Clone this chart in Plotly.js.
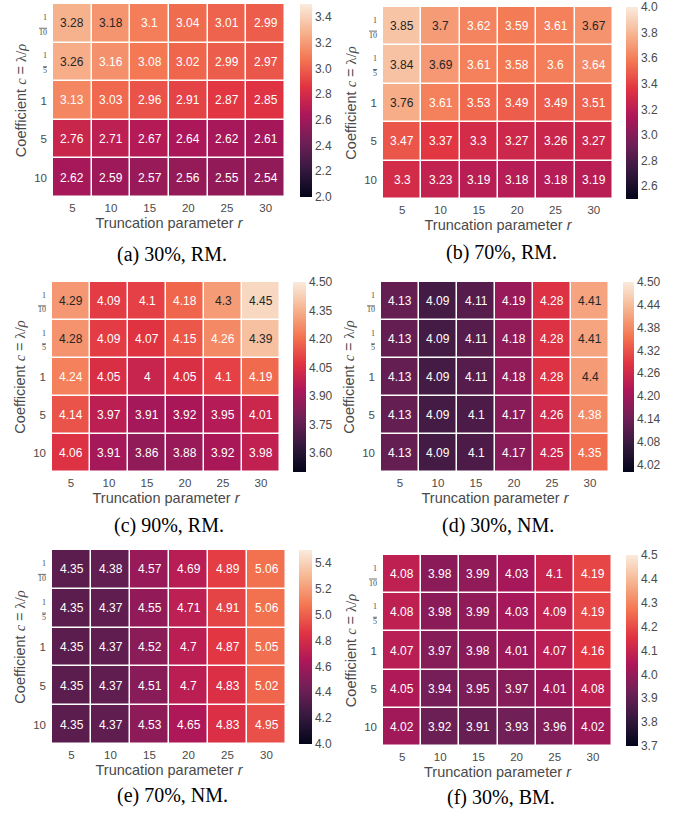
<!DOCTYPE html>
<html>
<head>
<meta charset="utf-8">
<script src="https://cdn.plot.ly/plotly-3.0.1.min.js"></script>
<style>html,body{margin:0;padding:0;background:#fff;}#chart{width:683px;height:815px;}</style>
</head>
<body>
<div id="chart"></div>
<script>
// ---- data ----
const xLabels = ['5', '10', '15', '20', '25', '30'];
const yLabels = ['1/10', '1/5', '1', '5', '10'];
const captions = ['(a) 30%, RM.', '(b) 70%, RM.', '(c) 90%, RM.', '(d) 30%, NM.', '(e) 70%, NM.', '(f) 30%, BM.'];

const zA = [[3.28, 3.18, 3.1, 3.04, 3.01, 2.99],
            [3.26, 3.16, 3.08, 3.02, 2.99, 2.97],
            [3.13, 3.03, 2.96, 2.91, 2.87, 2.85],
            [2.76, 2.71, 2.67, 2.64, 2.62, 2.61],
            [2.62, 2.59, 2.57, 2.56, 2.55, 2.54]];
const zB = [[3.85, 3.7, 3.62, 3.59, 3.61, 3.67],
            [3.84, 3.69, 3.61, 3.58, 3.6, 3.64],
            [3.76, 3.61, 3.53, 3.49, 3.49, 3.51],
            [3.47, 3.37, 3.3, 3.27, 3.26, 3.27],
            [3.3, 3.23, 3.19, 3.18, 3.18, 3.19]];
const zC = [[4.29, 4.09, 4.1, 4.18, 4.3, 4.45],
            [4.28, 4.09, 4.07, 4.15, 4.26, 4.39],
            [4.24, 4.05, 4, 4.05, 4.1, 4.19],
            [4.14, 3.97, 3.91, 3.92, 3.95, 4.01],
            [4.06, 3.91, 3.86, 3.88, 3.92, 3.98]];
const zD = [[4.13, 4.09, 4.11, 4.19, 4.28, 4.41],
            [4.13, 4.09, 4.11, 4.18, 4.28, 4.41],
            [4.13, 4.09, 4.11, 4.18, 4.28, 4.4],
            [4.13, 4.09, 4.1, 4.17, 4.26, 4.38],
            [4.13, 4.09, 4.1, 4.17, 4.25, 4.35]];
const zE = [[4.35, 4.38, 4.57, 4.69, 4.89, 5.06],
            [4.35, 4.37, 4.55, 4.71, 4.91, 5.06],
            [4.35, 4.37, 4.52, 4.7, 4.87, 5.05],
            [4.35, 4.37, 4.51, 4.7, 4.83, 5.02],
            [4.35, 4.37, 4.53, 4.65, 4.83, 4.95]];
const zF = [[4.08, 3.98, 3.99, 4.03, 4.1, 4.19],
            [4.08, 3.98, 3.99, 4.03, 4.09, 4.19],
            [4.07, 3.97, 3.98, 4.01, 4.07, 4.16],
            [4.05, 3.94, 3.95, 3.97, 4.01, 4.08],
            [4.02, 3.92, 3.91, 3.93, 3.96, 4.02]];

const cbRangeA = [2.0, 3.5], cbTicksA = ['2.0', '2.2', '2.4', '2.6', '2.8', '3.0', '3.2', '3.4'];
const cbRangeB = [2.5, 4.0], cbTicksB = ['2.6', '2.8', '3.0', '3.2', '3.4', '3.6', '3.8', '4.0'];
const cbRangeC = [3.5, 4.5], cbTicksC = ['3.60', '3.75', '3.90', '4.05', '4.20', '4.35', '4.50'];
const cbRangeD = [4.0, 4.5], cbTicksD = ['4.02', '4.08', '4.14', '4.20', '4.26', '4.32', '4.38', '4.44', '4.50'];
const cbRangeE = [4.0, 5.5], cbTicksE = ['4.0', '4.2', '4.4', '4.6', '4.8', '5.0', '5.2', '5.4'];
const cbRangeF = [3.7, 4.5], cbTicksF = ['3.7', '3.8', '3.9', '4.0', '4.1', '4.2', '4.3', '4.4', '4.5'];

// ---- style / layout ----
const W = 683, H = 815;
const rocketStops = [
  [0.0, '#03051a'], [1/7, '#35193e'], [2/7, '#701f57'], [3/7, '#ad1759'],
  [4/7, '#e13342'], [5/7, '#f37651'], [6/7, '#f6b48f'], [1.0, '#faebdd']
];
function hexToRgb(h) { return [parseInt(h.substr(1,2),16), parseInt(h.substr(3,2),16), parseInt(h.substr(5,2),16)]; }
function colorAt(t) {
  t = Math.max(0, Math.min(1, t));
  for (let k = 0; k < rocketStops.length - 1; k++) {
    const [t0, c0] = rocketStops[k], [t1, c1] = rocketStops[k+1];
    if (t <= t1) {
      const f = (t - t0) / (t1 - t0), a = hexToRgb(c0), b = hexToRgb(c1);
      return a.map((v, i) => v + f * (b[i] - v));
    }
  }
  return hexToRgb(rocketStops[rocketStops.length-1][1]);
}
function lum(rgb) {
  const l = rgb.map(v => { v /= 255; return v <= 0.03928 ? v / 12.92 : Math.pow((v + 0.055) / 1.055, 2.4); });
  return 0.2126 * l[0] + 0.7152 * l[1] + 0.0722 * l[2];
}

const panels = [
  {z: zA, range: cbRangeA, ticks: cbTicksA, cell: [53, 285, 4, 197],  cb: [300, 312], cap: 255},
  {z: zB, range: cbRangeB, ticks: cbTicksB, cell: [383, 613, 7, 199], cb: [626, 638], cap: 252},
  {z: zC, range: cbRangeC, ticks: cbTicksC, cell: [52, 280, 282, 472], cb: [293, 306], cap: 525},
  {z: zD, range: cbRangeD, ticks: cbTicksD, cell: [381, 609, 282, 472], cb: [623, 634], cap: 525},
  {z: zE, range: cbRangeE, ticks: cbTicksE, cell: [52, 286, 550, 744], cb: [299, 312], cap: 795},
  {z: zF, range: cbRangeF, ticks: cbTicksF, cell: [383, 612, 555, 746], cb: [626, 638], cap: 797}
];

const sans = 'Liberation Sans, Arial, sans-serif';
const tickGray = '#4a4a4a';
const fracTick = s => {
  if (s.indexOf('/') < 0) return s;
  const [n, d] = s.split('/');
  return "<span style='font-family:Liberation Serif;font-size:8px'>" + n +
         "<br><span style='text-decoration:overline'>" + d + "</span></span>";
};
const yTickText = yLabels.map(fracTick);
const xIdx = xLabels.map((_, i) => i);
const yIdx = yLabels.map((_, i) => i);

const data = [];
const layout = {
  width: W, height: H, margin: {l: 0, r: 0, t: 0, b: 0},
  paper_bgcolor: '#fff', plot_bgcolor: '#fff', showlegend: false,
  font: {family: sans, color: tickGray},
  annotations: []
};

panels.forEach((p, i) => {
  const n = i + 1;
  const [x0, x1, y0, y1] = p.cell;
  data.push({
    type: 'heatmap', z: p.z, x: xIdx, y: yIdx,
    xaxis: 'x' + n, yaxis: 'y' + n,
    colorscale: rocketStops, zmin: p.range[0], zmax: p.range[1],
    xgap: 1.5, ygap: 1.5, hoverinfo: 'skip',
    colorbar: {
      x: p.cb[0] / W, xanchor: 'left', xpad: 0,
      y: 1 - y0 / H, yanchor: 'top', ypad: 0,
      len: y1 - y0, lenmode: 'pixels',
      thickness: p.cb[1] - p.cb[0], thicknessmode: 'pixels',
      outlinewidth: 0, ticks: '', ticklabelpad: 4,
      tickvals: p.ticks.map(Number), ticktext: p.ticks,
      tickfont: {family: sans, size: 12, color: tickGray}
    }
  });
  layout['xaxis' + n] = {
    domain: [x0 / W, x1 / W], anchor: 'y' + n,
    range: [-0.5, xLabels.length - 0.5],
    tickvals: xIdx, ticktext: xLabels, ticks: '', ticklabelstandoff: 2,
    showgrid: false, zeroline: false, showline: false, fixedrange: true,
    tickfont: {family: sans, size: 11.5, color: tickGray},
    title: {text: 'Truncation parameter <i>r</i>', font: {family: sans, size: 14.5, color: tickGray}, standoff: 5}
  };
  layout['yaxis' + n] = {
    domain: [1 - y1 / H, 1 - y0 / H], anchor: 'x' + n,
    range: [yLabels.length - 0.5, -0.5],
    tickvals: yIdx, ticktext: yTickText, ticks: '', ticklabelstandoff: 5,
    showgrid: false, zeroline: false, showline: false, fixedrange: true,
    tickfont: {family: sans, size: 11.5, color: tickGray},
    title: {text: "Coefficient <span style='font-family:Liberation Serif;font-style:italic'>c</span> = <span style='font-family:Liberation Serif'>λ/<i>ρ</i></span>",
            font: {family: sans, size: 14.5, color: tickGray}, standoff: 4}
  };
  // cell annotations
  p.z.forEach((row, r) => row.forEach((v, c) => {
    const t = (v - p.range[0]) / (p.range[1] - p.range[0]);
    const dark = lum(colorAt(t)) > 0.408;
    layout.annotations.push({
      xref: 'x' + n, yref: 'y' + n, x: c, y: r, text: String(v), showarrow: false,
      font: {family: sans, size: 12, color: dark ? '#262626' : '#ffffff'}
    });
  }));
  // caption
  layout.annotations.push({
    xref: 'paper', yref: 'paper', x: ((x0 + x1) / 2 + 3) / W, y: 1 - p.cap / H,
    xanchor: 'center', yanchor: 'middle', showarrow: false,
    text: captions[i], font: {family: 'Liberation Serif, Times New Roman, serif', size: 20, color: '#000'}
  });
});

Plotly.newPlot('chart', data, layout, {displayModeBar: false, staticPlot: true});
</script>
</body>
</html>
